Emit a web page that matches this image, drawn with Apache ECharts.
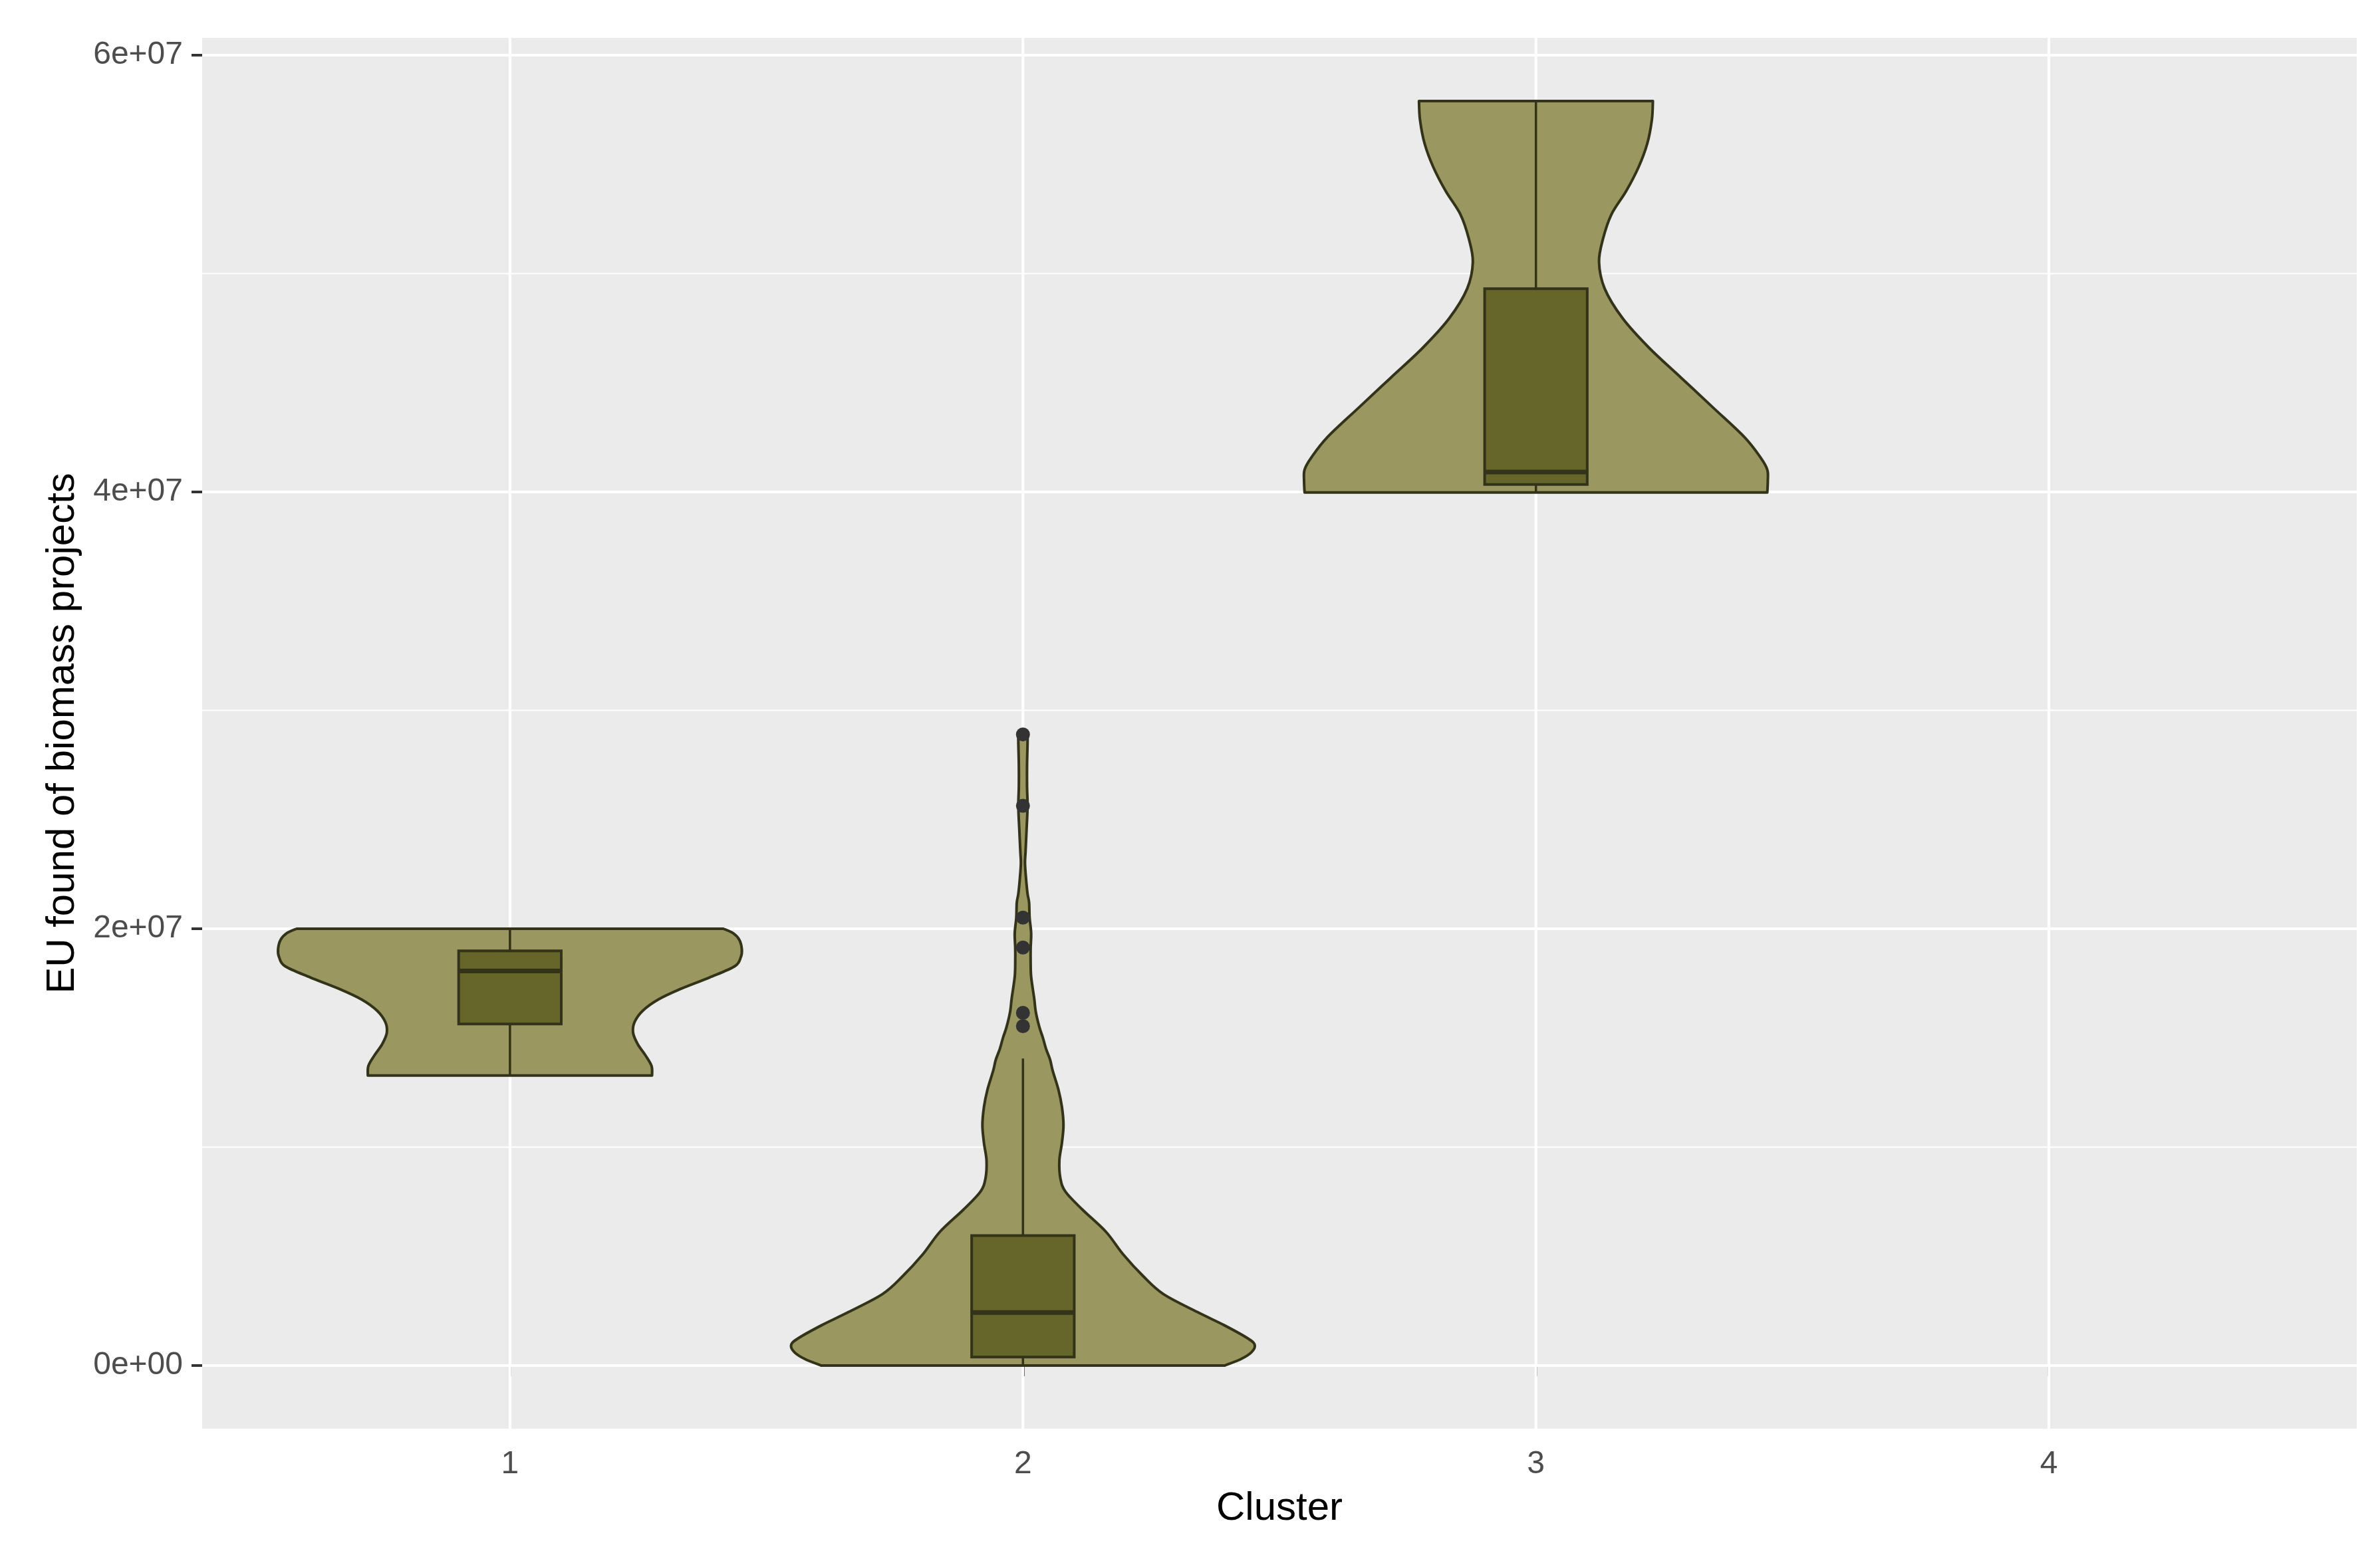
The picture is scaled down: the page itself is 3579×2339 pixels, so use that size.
<!DOCTYPE html>
<html>
<head>
<meta charset="utf-8">
<script src="https://cdn.jsdelivr.net/npm/echarts@6/dist/echarts.min.js"></script>
<style>
  html, body { margin: 0; padding: 0; background: #fff; }
  #chart { width: 3579px; height: 2339px; }
</style>
</head>
<body>
<div id="chart"></div>
<script>
// categories on the x axis
const clusters = [1, 2, 3, 4];
const yTicks = [0, 2e7, 4e7, 6e7];
const yMinorTicks = [1e7, 3e7, 5e7];

// violin outlines: [value, half width in category units], bottom to top
const violin1 = [
  [13.28e6, 0.277], [13.72e6, 0.276], [14.21e6, 0.264], [14.72e6, 0.249],
  [15.24e6, 0.240], [15.73e6, 0.243], [16.25e6, 0.259], [16.76e6, 0.289],
  [17.25e6, 0.333], [17.77e6, 0.389], [18.28e6, 0.438], [18.7e6, 0.450],
  [19.07e6, 0.452], [19.5e6, 0.447], [19.8e6, 0.435], [20.0e6, 0.416]
];
const violin2 = [
  [0.0, 0.393], [0.3e6, 0.425], [0.6e6, 0.445], [0.92e6, 0.452], [1.22e6, 0.440],
  [1.84e6, 0.393], [2.45e6, 0.340], [3.27e6, 0.274], [4.08e6, 0.235], [5.10e6, 0.195],
  [6.12e6, 0.162], [7.14e6, 0.116], [7.96e6, 0.083], [8.57e6, 0.073], [9.39e6, 0.071],
  [10.2e6, 0.076], [11.0e6, 0.079], [11.84e6, 0.076], [12.65e6, 0.069], [13.5e6, 0.058],
  [14.0e6, 0.053], [14.5e6, 0.045], [15.0e6, 0.039], [15.5e6, 0.032], [16.2e6, 0.025],
  [16.8e6, 0.022], [17.8e6, 0.016], [18.5e6, 0.015], [19.1e6, 0.015], [19.8e6, 0.016],
  [20.5e6, 0.013], [21.2e6, 0.012], [21.6e6, 0.009], [22.3e6, 0.006], [23.0e6, 0.004],
  [23.5e6, 0.005], [24.5e6, 0.007], [25.6e6, 0.009], [26.5e6, 0.008], [27.5e6, 0.008],
  [28.5e6, 0.009], [28.9e6, 0.009]
];
const violin3 = [
  [39.98e6, 0.451], [40.5e6, 0.452], [41.02e6, 0.451], [41.57e6, 0.438], [42.52e6, 0.406],
  [43.87e6, 0.345], [45.23e6, 0.283], [46.59e6, 0.221], [47.95e6, 0.169], [49.31e6, 0.134],
  [50.53e6, 0.123], [51.61e6, 0.131], [52.70e6, 0.147], [53.78e6, 0.176], [54.87e6, 0.200],
  [55.95e6, 0.217], [57.04e6, 0.226], [57.9e6, 0.228]
];
const violins = [violin1, violin2, violin3];

// boxplot stats per cluster: [lower whisker, q1, median, q3, upper whisker]
const boxStats = [
  [13.28e6, 15.64e6, 18.07e6, 18.99e6, 20.0e6],
  [0.0, 0.39e6, 2.43e6, 5.95e6, 14.06e6],
  [39.98e6, 40.34e6, 40.91e6, 49.31e6, 57.9e6]
];

// outliers of cluster 2
const outliers2 = [28.9e6, 25.63e6, 20.51e6, 19.14e6, 16.15e6, 15.54e6];

const violinFill = '#9a9860';
const boxFill = '#66652a';
const edge = '#33331a';

function sci(v) {
  if (v === 0) return '0e+00';
  const e = Math.floor(Math.log10(Math.abs(v)));
  const m = Math.round(v / Math.pow(10, e) * 100) / 100;
  return m + 'e' + (e < 0 ? '-' : '+') + String(Math.abs(e)).padStart(2, '0');
}

// catmull-rom -> bezier through pixel points
function curveThrough(pts) {
  let d = '';
  for (let i = 0; i < pts.length - 1; i++) {
    const p0 = pts[i - 1] || pts[i], p1 = pts[i], p2 = pts[i + 1], p3 = pts[i + 2] || p2;
    const c1 = [p1[0] + (p2[0] - p0[0]) / 6, p1[1] + (p2[1] - p0[1]) / 6];
    const c2 = [p2[0] - (p3[0] - p1[0]) / 6, p2[1] - (p3[1] - p1[1]) / 6];
    d += ' C' + c1[0] + ' ' + c1[1] + ' ' + c2[0] + ' ' + c2[1] + ' ' + p2[0] + ' ' + p2[1];
  }
  return d;
}

const gridLines = []
  .concat(yTicks.map(v => ({ dir: 'y', value: v, w: 4 })))
  .concat(yMinorTicks.map(v => ({ dir: 'y', value: v, w: 2 })))
  .concat(clusters.map(c => ({ dir: 'x', value: c, w: 4 })));

const chart = echarts.init(document.getElementById('chart'), null, { renderer: 'canvas' });

chart.setOption({
  backgroundColor: '#ffffff',
  animation: false,
  grid: {
    left: 304, right: 35, top: 57, bottom: 190,
    show: true, backgroundColor: '#ebebeb', borderWidth: 0,
    containLabel: false, outerBoundsMode: 'none'
  },
  xAxis: {
    type: 'value', min: 0.4, max: 4.6,
    name: 'Cluster', nameLocation: 'middle', nameGap: 90,
    nameTextStyle: { fontSize: 60, color: '#000', fontFamily: 'Liberation Sans' },
    axisLine: { show: false },
    axisTick: { show: true, length: 16, customValues: clusters, lineStyle: { color: '#333333', width: 4 } },
    axisLabel: {
      customValues: clusters, margin: 30, fontSize: 48, color: '#4d4d4d',
      fontFamily: 'Liberation Sans', formatter: v => String(Math.round(v))
    },
    splitLine: { show: false }
  },
  yAxis: {
    type: 'value', min: -2.89e6, max: 60.79e6,
    name: 'EU found of biomass projects', nameLocation: 'middle', nameGap: 180, nameRotate: 90,
    nameTextStyle: { fontSize: 60, color: '#000', fontFamily: 'Liberation Sans' },
    axisLine: { show: false },
    axisTick: { show: true, length: 16, customValues: yTicks, lineStyle: { color: '#333333', width: 4 } },
    axisLabel: {
      customValues: yTicks, margin: 29, fontSize: 48, color: '#4d4d4d',
      fontFamily: 'Liberation Sans', formatter: v => sci(v)
    },
    splitLine: { show: false }
  },
  series: [
    {
      // panel gridlines
      type: 'custom', z: 1, silent: true,
      data: gridLines.map(g => g.dir === 'x' ? [g.value, 0] : [1, g.value]),
      encode: { x: 0, y: 1 },
      renderItem: (params, api) => {
        const g = gridLines[params.dataIndex];
        const cs = params.coordSys;
        if (g.dir === 'y') {
          const y = api.coord([1, g.value])[1];
          return { type: 'line', shape: { x1: cs.x, y1: y, x2: cs.x + cs.width, y2: y },
                   style: { stroke: '#ffffff', lineWidth: g.w } };
        }
        const x = api.coord([g.value, 0])[0];
        return { type: 'line', shape: { x1: x, y1: cs.y, x2: x, y2: cs.y + cs.height },
                 style: { stroke: '#ffffff', lineWidth: g.w } };
      }
    },
    {
      // violins with boxplots
      type: 'custom', z: 2, silent: true,
      data: boxStats.map((b, i) => [clusters[i], b[2]]),
      encode: { x: 0, y: 1 },
      renderItem: (params, api) => {
        const i = params.dataIndex;
        const cx = clusters[i];
        const prof = violins[i];
        const right = prof.map(p => api.coord([cx + p[1], p[0]]));
        const left = prof.slice().reverse().map(p => api.coord([cx - p[1], p[0]]));
        const d = 'M' + right[0][0] + ' ' + right[0][1] + curveThrough(right) +
          ' L' + left[0][0] + ' ' + left[0][1] + curveThrough(left) + ' Z';
        const b = boxStats[i];
        const lo = api.coord([cx, b[0]]), q1 = api.coord([cx, b[1]]);
        const q3 = api.coord([cx, b[3]]), hi = api.coord([cx, b[4]]);
        const bl = api.coord([cx - 0.1, b[3]]), br = api.coord([cx + 0.1, b[1]]);
        const ml = api.coord([cx - 0.1, b[2]]), mr = api.coord([cx + 0.1, b[2]]);
        return {
          type: 'group',
          children: [
            { type: 'path', shape: { pathData: d }, style: { fill: violinFill, stroke: edge, lineWidth: 4, lineJoin: 'round' } },
            { type: 'line', shape: { x1: lo[0], y1: lo[1], x2: q1[0], y2: q1[1] }, style: { stroke: edge, lineWidth: 3.5 } },
            { type: 'line', shape: { x1: q3[0], y1: q3[1], x2: hi[0], y2: hi[1] }, style: { stroke: edge, lineWidth: 3.5 } },
            { type: 'rect', shape: { x: bl[0], y: bl[1], width: br[0] - bl[0], height: br[1] - bl[1] },
              style: { fill: boxFill, stroke: edge, lineWidth: 4 } },
            { type: 'line', shape: { x1: ml[0], y1: ml[1], x2: mr[0], y2: mr[1] }, style: { stroke: edge, lineWidth: 7 } }
          ]
        };
      }
    },
    {
      type: 'scatter', z: 3, silent: true,
      symbol: 'circle', symbolSize: 21,
      itemStyle: { color: '#333333', opacity: 1 },
      data: outliers2.map(v => [2, v])
    }
  ]
});
</script>
</body>
</html>
